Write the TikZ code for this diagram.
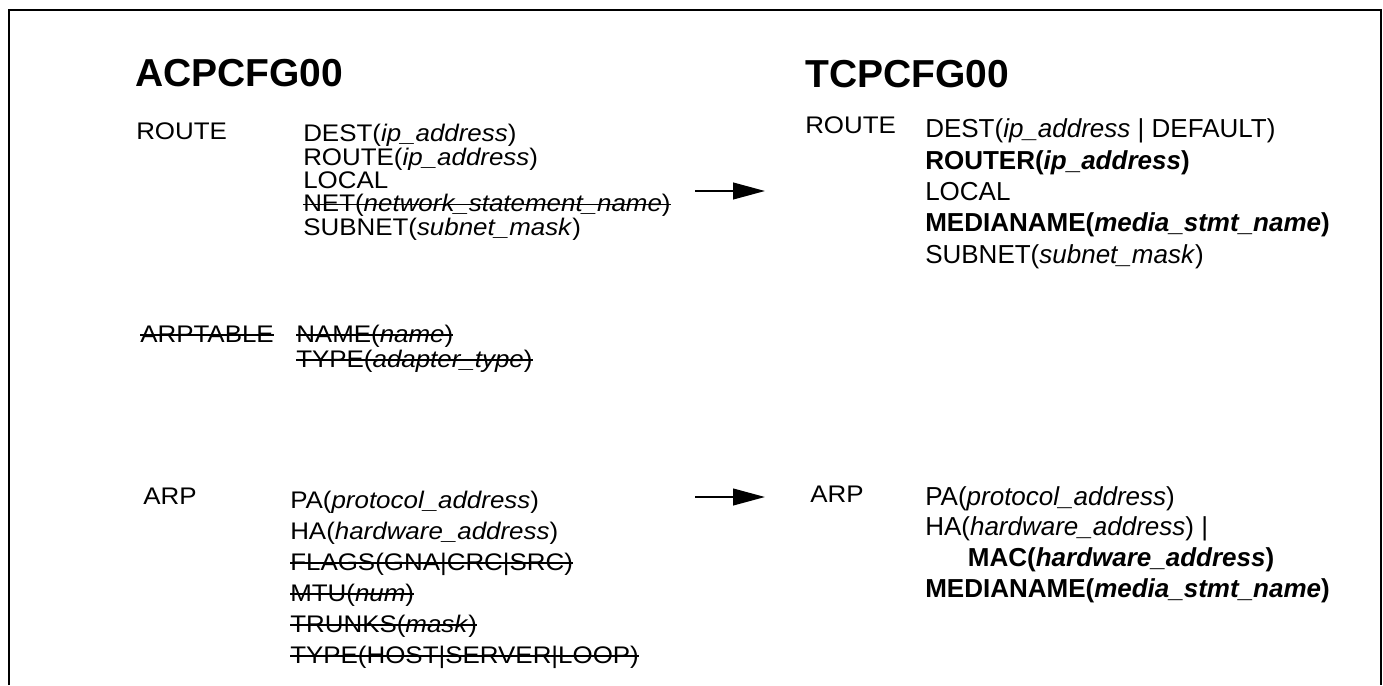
\documentclass[tikz,border=0pt]{standalone}
\usepackage{fontspec}
\setmainfont{Liberation Sans}
\newfontfamily\widefont[FakeStretch=1.08]{Liberation Sans}
\usetikzlibrary{arrows.meta}

\newcommand{\gone}[1]{\sbox0{#1}\rlap{\usebox0}\rule[.26em]{\wd0}{.06em}}

\begin{document}
\begin{tikzpicture}[x=0.75pt,y=-0.75pt,
	heading/.style={anchor=base west,inner sep=0pt,font=\bfseries\fontsize{29.25}{30}\selectfont},
	keyword/.style={anchor=base west,inner sep=0pt,font=\widefont\fontsize{18}{20}\selectfont},
	% blocks are placed by the baseline of their last line
	params/.style={anchor=base west,inner sep=0pt,align=left,
		font={\fontsize{19.5}{#1}\selectfont\lineskiplimit-20pt\relax}},
	oldparams/.style={params=#1,font={\widefont\fontsize{18}{#1}\selectfont\lineskiplimit-20pt\relax}},
	conv/.style={-{Triangle[length=24pt,width=12.5pt]},line width=1.6pt}]
	\useasboundingbox (0,0) rectangle (1383,685);

	% frame, open at the bottom
	\draw[line width=1.5pt] (9,685) -- (9,10) -- (1381,10) -- (1381,685);

	\node[heading] (acp) at (135,86) {ACPCFG00};
	\node[heading] (tcp) at (805,87) {TCPCFG00};

	% old statements
	\node[keyword] (aroute) at (136,139) {ROUTE};
	\node[oldparams=17.5] (aroutep) at (303,235) {DEST(\textit{ip\_address})\\
		ROUTE(\textit{ip\_address})\\
		LOCAL\\
		\gone{NET(\textit{network\_statement\_name})}\\
		SUBNET(\textit{subnet\_mask})};

	\node[keyword] (atab) at (140,342) {\gone{ARPTABLE}};
	\node[oldparams=18.75] (atabp) at (296,367) {\gone{NAME(\textit{name})}\\
		\gone{TYPE(\textit{adapter\_type})}};

	\node[keyword] (aarp) at (143,504) {ARP};
	\node[oldparams=23.25] (aarpp) at (290,663) {PA(\textit{protocol\_address})\\
		HA(\textit{hardware\_address})\\
		\gone{FLAGS(GNA|CRC|SRC)}\\
		\gone{MTU(\textit{num})}\\
		\gone{TRUNKS(\textit{mask})}\\
		\gone{TYPE(HOST|SERVER|LOOP)}};

	% new statements
	\node[keyword] (troute) at (805,133) {ROUTE};
	\node[params=23.5] (troutep) at (925,263) {DEST(\textit{ip\_address} | DEFAULT)\\
		\textbf{ROUTER(\textit{ip\_address})}\\
		LOCAL\\
		\textbf{MEDIANAME(\textit{media\_stmt\_name})}\\
		SUBNET(\textit{subnet\_mask})};

	\node[keyword] (tarp) at (810,502) {ARP};
	\node[params=22.9] (tarpp) at (925,597) {PA(\textit{protocol\_address})\\
		HA(\textit{hardware\_address}) |\\
		\hspace*{32pt}\textbf{MAC(\textit{hardware\_address})}\\
		\textbf{MEDIANAME(\textit{media\_stmt\_name})}};

	% conversion arrows
	\coordinate (r1) at (695,191);
	\coordinate (r2) at (765,191);
	\coordinate (p1) at (695,497);
	\coordinate (p2) at (765,497);
	\draw[conv] (r1) -- (r2);
	\draw[conv] (p1) -- (p2);

\end{tikzpicture}
\end{document}
